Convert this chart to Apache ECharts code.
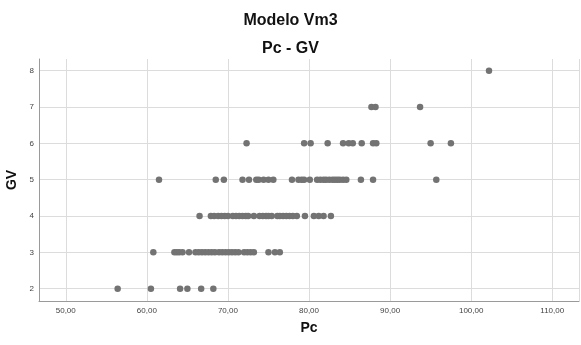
<!DOCTYPE html>
<html lang="es">
	<head>
		<meta charset="utf-8">
	</head>
	<body style="margin: 0">
		<div id="container" style="width: 581px; height: 345px"></div>
		<script type="text/javascript" src="https://cdn.jsdelivr.net/npm/echarts@6/dist/echarts.min.js"></script>
		<script type="text/javascript">
			// valores de Pc para cada nivel de GV
			const gv2 = [56.4, 60.5, 64.1, 65.0, 66.7, 68.2]
			const gv3 = [60.8, 63.4, 63.7, 64.0, 64.4, 65.2, 66.0, 66.4, 66.8, 67.2, 67.6, 68.0, 68.4, 68.9, 69.3, 69.7, 70.1, 70.5, 70.9, 71.3, 72.0, 72.4, 72.8, 73.2, 75.0, 75.8, 76.4]
			const gv4 = [66.5, 67.9, 68.3, 68.8, 69.2, 69.6, 70.0, 70.6, 71.0, 71.4, 71.8, 72.2, 72.5, 73.2, 73.9, 74.3, 74.7, 75.0, 75.4, 76.1, 76.4, 76.8, 77.2, 77.6, 78.0, 78.5, 79.5, 80.6, 81.2, 81.8, 82.7]
			const gv5 = [61.5, 68.5, 69.5, 71.8, 72.6, 73.5, 73.8, 74.4, 75.0, 75.6, 77.9, 78.7, 79.1, 79.4, 80.1, 81.0, 81.4, 81.8, 82.1, 82.5, 82.9, 83.2, 83.5, 83.8, 84.2, 84.6, 86.4, 87.9, 95.7]
			const gv6 = [72.3, 79.4, 80.2, 82.3, 84.2, 84.9, 85.4, 86.5, 87.9, 88.3, 95.0, 97.5]
			const gv7 = [87.7, 88.2, 93.7]
			const gv8 = [102.2]

			const levels = [2, 3, 4, 5, 6, 7, 8]
			const groups = [gv2, gv3, gv4, gv5, gv6, gv7, gv8]

			let points = []
			groups.forEach((g, i) => {
				g.forEach(pc => points.push([pc, levels[i]]))
			})

			var chartDom = document.getElementById('container');
			var myChart = echarts.init(chartDom);
			var font = 'Liberation Sans, Arial, sans-serif'
			var option;

			option = {
				animation: false,
				title: [{
						text: 'Modelo Vm3',
						left: 'center',
						top: 8,
						textStyle: { fontFamily: font, fontSize: 16, fontWeight: 'bold', color: '#111' }
					},
					{
						text: 'Pc - GV',
						left: 'center',
						top: 36,
						textStyle: { fontFamily: font, fontSize: 16, fontWeight: 'bold', color: '#111' }
					}
				],
				grid: {
					left: 39,
					right: 2,
					top: 59,
					bottom: 44,
					containLabel: false,
					outerBoundsMode: 'none'
				},
				xAxis: {
					type: 'value',
					min: 46.7,
					max: 113.3,
					splitNumber: 7,
					name: 'Pc',
					nameLocation: 'middle',
					nameGap: 20,
					nameTextStyle: { fontFamily: font, fontSize: 14, fontWeight: 'bold', color: '#111' },
					axisLine: { lineStyle: { color: '#9a9a9a', width: 1 } },
					axisTick: { show: false },
					splitLine: { lineStyle: { color: '#dcdcdc', width: 1 } },
					axisLabel: {
						showMinLabel: false,
						showMaxLabel: false,
						margin: 6,
						fontFamily: font,
						fontSize: 8,
						color: '#444',
						formatter: v => v.toFixed(2).replace('.', ',')
					}
				},
				yAxis: {
					type: 'value',
					min: 1.66,
					max: 8.32,
					name: 'GV',
					nameLocation: 'middle',
					nameRotate: 90,
					nameGap: 16,
					nameTextStyle: { fontFamily: font, fontSize: 14, fontWeight: 'bold', color: '#111' },
					axisLine: { show: true, lineStyle: { color: '#9a9a9a', width: 1 } },
					axisTick: { show: false },
					splitLine: { showMaxLine: false, lineStyle: { color: '#dcdcdc', width: 1 } },
					axisLabel: {
						showMinLabel: false,
						showMaxLabel: false,
						margin: 5,
						fontFamily: font,
						fontSize: 8,
						color: '#444'
					}
				},
				series: [{
					type: 'scatter',
					symbolSize: 6.5,
					itemStyle: { color: '#737373', opacity: 1 },
					data: points
				}]
			};
			option && myChart.setOption(option);
		</script>
	</body>
</html>
